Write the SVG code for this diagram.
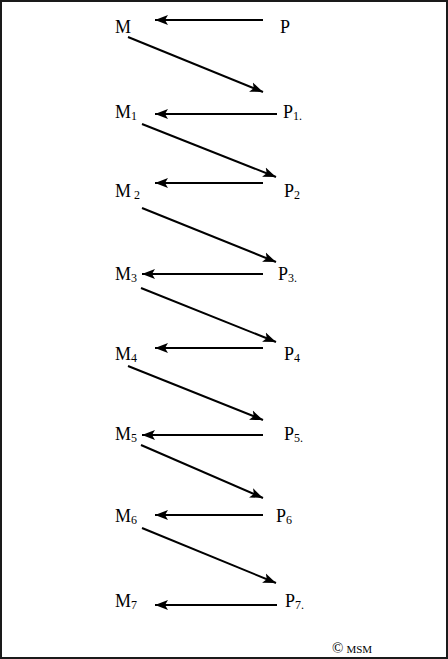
<svg xmlns="http://www.w3.org/2000/svg" width="448" height="659" viewBox="0 0 448 659">
<defs>
<style>
text{font-family:"Liberation Serif","Times New Roman",serif;fill:#000}
.n{font-size:18px}
.s{font-size:12px}
.c line{stroke:#000;stroke-width:2;marker-end:url(#ah)}
</style>
<marker id="ah" markerUnits="userSpaceOnUse" markerWidth="14" markerHeight="12" viewBox="0 0 14 12" refX="13" refY="6" orient="auto">
<path d="M0,1 L13,6 L0,11 L3,6 Z" fill="#000"/>
</marker>
</defs>
<rect x="1" y="1" width="446" height="657" fill="#fff" stroke="#1a1a1a" stroke-width="2"/>
<g id="M"><text class="n" x="115" y="33">M</text></g>
<g id="P"><text class="n" x="280" y="33">P</text></g>
<g id="M1"><text class="n" x="115" y="118">M<tspan class="s" dy="2">1</tspan></text></g>
<g id="P1"><text class="n" x="283" y="118">P<tspan class="s" dy="2">1.</tspan></text></g>
<g id="M2"><text class="n" x="115" y="197">M<tspan class="s" dy="2"> 2</tspan></text></g>
<g id="P2"><text class="n" x="284" y="197">P<tspan class="s" dy="2">2</tspan></text></g>
<g id="M3"><text class="n" x="115" y="280">M<tspan class="s" dy="2">3</tspan></text></g>
<g id="P3"><text class="n" x="278" y="280">P<tspan class="s" dy="2">3.</tspan></text></g>
<g id="M4"><text class="n" x="115" y="360">M<tspan class="s" dy="2">4</tspan></text></g>
<g id="P4"><text class="n" x="284" y="360">P<tspan class="s" dy="2">4</tspan></text></g>
<g id="M5"><text class="n" x="115" y="440">M<tspan class="s" dy="2">5</tspan></text></g>
<g id="P5"><text class="n" x="284" y="440">P<tspan class="s" dy="2">5.</tspan></text></g>
<g id="M6"><text class="n" x="115" y="522">M<tspan class="s" dy="2">6</tspan></text></g>
<g id="P6"><text class="n" x="276" y="522">P<tspan class="s" dy="2">6</tspan></text></g>
<g id="M7"><text class="n" x="115" y="607">M<tspan class="s" dy="2">7</tspan></text></g>
<g id="P7"><text class="n" x="285" y="607">P<tspan class="s" dy="2">7.</tspan></text></g>
<g id="copyright"><text x="332" y="653"><tspan font-size="15">©</tspan><tspan font-size="11" dx="3">MSM</tspan></text></g>
<g class="c" id="connectors">
<line x1="263" y1="20" x2="155" y2="20"/>
<line x1="128" y1="37" x2="263" y2="92"/>
<line x1="277" y1="114" x2="155" y2="114"/>
<line x1="142" y1="124" x2="276" y2="177"/>
<line x1="263" y1="183" x2="155" y2="183"/>
<line x1="142" y1="208" x2="276" y2="262"/>
<line x1="263" y1="274" x2="142" y2="274"/>
<line x1="141" y1="288" x2="276" y2="342"/>
<line x1="263" y1="348" x2="155" y2="348"/>
<line x1="128" y1="366" x2="263" y2="420"/>
<line x1="263" y1="435" x2="142" y2="435"/>
<line x1="141" y1="445" x2="263" y2="498"/>
<line x1="263" y1="515" x2="155" y2="515"/>
<line x1="142" y1="528" x2="276" y2="583"/>
<line x1="277" y1="605" x2="155" y2="605"/>
</g>
</svg>
